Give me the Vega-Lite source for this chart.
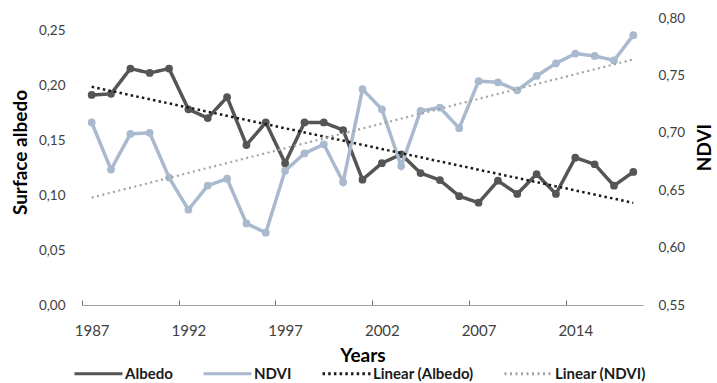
{
  "$schema": "https://vega.github.io/schema/vega-lite/v6.json",
  "width": 561,
  "height": 287,
  "autosize": {"type": "none"},
  "padding": {"left": 82, "top": 18, "right": 74, "bottom": 78},
  "background": "white",
  "config": {
    "font": "Lato",
    "view": {"stroke": null},
    "axis": {"grid": false, "labelFont": "Lato", "titleFont": "Lato"}
  },
  "data": {
    "values": [
      {"year": 1987, "albedo": 0.191, "ndvi": 0.709},
      {"year": 1988, "albedo": 0.192, "ndvi": 0.668},
      {"year": 1989, "albedo": 0.215, "ndvi": 0.699},
      {"year": 1990, "albedo": 0.211, "ndvi": 0.700},
      {"year": 1991, "albedo": 0.215, "ndvi": 0.661},
      {"year": 1992, "albedo": 0.178, "ndvi": 0.633},
      {"year": 1993, "albedo": 0.170, "ndvi": 0.654},
      {"year": 1994, "albedo": 0.189, "ndvi": 0.660},
      {"year": 1995, "albedo": 0.1455, "ndvi": 0.621},
      {"year": 1996, "albedo": 0.166, "ndvi": 0.613},
      {"year": 1997, "albedo": 0.129, "ndvi": 0.667},
      {"year": 1998, "albedo": 0.166, "ndvi": 0.682},
      {"year": 1999, "albedo": 0.166, "ndvi": 0.690},
      {"year": 2000, "albedo": 0.159, "ndvi": 0.657},
      {"year": 2001, "albedo": 0.114, "ndvi": 0.738},
      {"year": 2002, "albedo": 0.129, "ndvi": 0.7205},
      {"year": 2003, "albedo": 0.137, "ndvi": 0.671},
      {"year": 2004, "albedo": 0.120, "ndvi": 0.719},
      {"year": 2005, "albedo": 0.1136, "ndvi": 0.722},
      {"year": 2006, "albedo": 0.099, "ndvi": 0.704},
      {"year": 2007, "albedo": 0.093, "ndvi": 0.745},
      {"year": 2008, "albedo": 0.113, "ndvi": 0.744},
      {"year": 2009, "albedo": 0.101, "ndvi": 0.737},
      {"year": 2010, "albedo": 0.119, "ndvi": 0.7495},
      {"year": 2011, "albedo": 0.101, "ndvi": 0.7605},
      {"year": 2014, "albedo": 0.134, "ndvi": 0.769},
      {"year": 2015, "albedo": 0.128, "ndvi": 0.767},
      {"year": 2016, "albedo": 0.1085, "ndvi": 0.763},
      {"year": 2017, "albedo": 0.121, "ndvi": 0.785}
    ]
  },
  "layer": [
    {
      "mark": {"type": "line", "strokeWidth": 3.5, "point": {"filled": true, "size": 60}},
      "encoding": {
        "x": {
          "field": "year", "type": "ordinal", "title": "Years",
          "axis": {
            "orient": "bottom",
            "values": [1987, 1992, 1997, 2002, 2007, 2014],
            "labelAngle": 0,
            "tickOffset": -9.67,
            "labelOffset": 9.67,
            "tickSize": -5,
            "tickWidth": 1,
            "tickColor": "#707070",
            "domainColor": "#a0a0a0",
            "labelPadding": 23,
            "labelFontSize": 15,
            "labelColor": "#404040",
            "titleFontSize": 19,
            "titleFontWeight": "bold",
            "titleColor": "#000000",
            "titlePadding": 8
          }
        },
        "y": {
          "field": "albedo", "type": "quantitative",
          "scale": {"domain": [0, 0.261], "nice": false},
          "axis": {
            "orient": "left",
            "title": "Surface albedo",
            "values": [0, 0.05, 0.1, 0.15, 0.2, 0.25],
            "labelExpr": "replace(format(datum.value, '.2f'), '.', ',')",
            "domain": false,
            "ticks": false,
            "labelPadding": 17,
            "labelFontSize": 13.5,
            "labelColor": "#404040",
            "titleFontSize": 19,
            "titleFontWeight": "bold",
            "titleColor": "#000000",
            "titlePadding": 8,
            "titleY": 134
          }
        },
        "color": {
          "datum": "Albedo",
          "scale": {
            "domain": ["Albedo", "NDVI", "Linear (Albedo)", "Linear (NDVI)"],
            "range": ["#555555", "#A9B9CE", "#1a1a1a", "#a3a3a3"]
          },
          "legend": {
            "orient": "none", "legendX": -9, "legendY": 330,
            "direction": "horizontal", "title": null,
            "symbolType": "stroke", "symbolSize": 2304, "symbolStrokeWidth": 3,
            "labelFont": "Lato", "labelFontSize": 15, "labelFontWeight": "bold",
            "labelColor": "#1a1a1a", "columnPadding": 24, "labelOffset": 1
          }
        },
        "strokeDash": {
          "datum": "Albedo",
          "scale": {
            "domain": ["Albedo", "NDVI", "Linear (Albedo)", "Linear (NDVI)"],
            "range": [[1, 0], [1, 0], [2.5, 3.2], [2, 3.5]]
          },
          "legend": {
            "orient": "none", "legendX": -9, "legendY": 330,
            "direction": "horizontal", "title": null,
            "symbolType": "stroke", "symbolSize": 2304, "symbolStrokeWidth": 3,
            "labelFont": "Lato", "labelFontSize": 15, "labelFontWeight": "bold",
            "labelColor": "#1a1a1a", "columnPadding": 24, "labelOffset": 1
          }
        }
      }
    },
    {
      "mark": {"type": "line", "strokeWidth": 3.5, "point": {"filled": true, "size": 60}},
      "encoding": {
        "x": {"field": "year", "type": "ordinal", "axis": null},
        "y": {
          "field": "ndvi", "type": "quantitative",
          "scale": {"domain": [0.55, 0.80], "nice": false, "zero": false},
          "axis": {
            "orient": "right",
            "title": "NDVI",
            "values": [0.55, 0.6, 0.65, 0.7, 0.75, 0.8],
            "labelExpr": "replace(format(datum.value, '.2f'), '.', ',')",
            "domain": false,
            "ticks": false,
            "labelPadding": 15,
            "labelFontSize": 13.5,
            "labelColor": "#404040",
            "titleFontSize": 19,
            "titleFontWeight": "bold",
            "titleColor": "#000000",
            "titlePadding": 30,
            "titleAngle": 270,
            "titleY": 129
          }
        },
        "color": {"datum": "NDVI"},
        "strokeDash": {"datum": "NDVI"}
      }
    },
    {
      "transform": [
        {"window": [{"op": "row_number", "as": "idx"}]},
        {"regression": "albedo", "on": "idx"}
      ],
      "mark": {"type": "line", "strokeWidth": 2.5},
      "encoding": {
        "x": {"field": "idx", "type": "quantitative", "scale": {"domain": [0.5, 29.5], "nice": false, "zero": false}, "axis": null},
        "y": {"field": "albedo", "type": "quantitative", "scale": {"domain": [0, 0.261], "nice": false}, "axis": null},
        "color": {"datum": "Linear (Albedo)"},
        "strokeDash": {"datum": "Linear (Albedo)"}
      }
    },
    {
      "transform": [
        {"window": [{"op": "row_number", "as": "idx"}]},
        {"regression": "ndvi", "on": "idx"}
      ],
      "mark": {"type": "line", "strokeWidth": 2.2},
      "encoding": {
        "x": {"field": "idx", "type": "quantitative", "scale": {"domain": [0.5, 29.5], "nice": false, "zero": false}, "axis": null},
        "y": {"field": "ndvi", "type": "quantitative", "scale": {"domain": [0.55, 0.80], "nice": false, "zero": false}, "axis": null},
        "color": {"datum": "Linear (NDVI)"},
        "strokeDash": {"datum": "Linear (NDVI)"}
      }
    }
  ],
  "resolve": {"scale": {"x": "independent", "y": "independent"}}
}
